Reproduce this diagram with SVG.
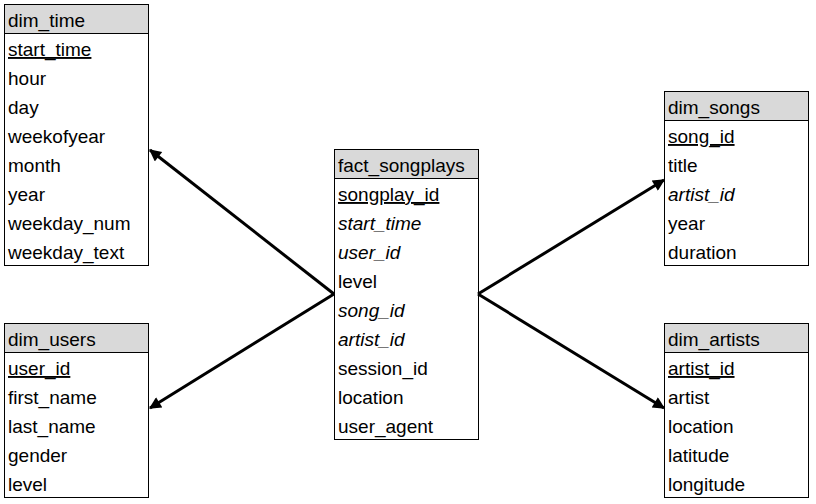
<svg xmlns="http://www.w3.org/2000/svg" width="816" height="504" viewBox="0 0 816 504">
<style>
text{font-family:"Liberation Sans",Arial,sans-serif;font-size:19px;fill:#000}
.hd{fill:#d9d9d9;stroke:#000;stroke-width:1}
.bx{fill:#fff;stroke:#000;stroke-width:1}
.pk{text-decoration:underline}
.fk{font-style:italic}
.ln{stroke:#000;stroke-width:3;fill:none;marker-end:url(#ah)}
</style>
<defs>
<marker id="ah" viewBox="0 0 10 10" refX="9" refY="5" markerWidth="4.5" markerHeight="4" orient="auto" markerUnits="strokeWidth">
<path d="M0,0 L10,5 L0,10 z" fill="#000"/>
</marker>
</defs>
<rect width="816" height="504" fill="#fff"/>
<g id="dim_time">
<rect class="bx" x="4.5" y="4.5" width="144" height="261"/>
<rect class="hd" x="4.5" y="4.5" width="144" height="29"/>
<text x="8" y="27">dim_time</text>
<text x="8" y="56" class="pk">start_time</text>
<text x="8" y="85">hour</text>
<text x="8" y="114">day</text>
<text x="8" y="143">weekofyear</text>
<text x="8" y="172">month</text>
<text x="8" y="201">year</text>
<text x="8" y="230">weekday_num</text>
<text x="8" y="259">weekday_text</text>
</g>
<g id="dim_users">
<rect class="bx" x="4.5" y="323.5" width="144" height="174"/>
<rect class="hd" x="4.5" y="323.5" width="144" height="29"/>
<text x="8" y="346">dim_users</text>
<text x="8" y="375" class="pk">user_id</text>
<text x="8" y="404">first_name</text>
<text x="8" y="433">last_name</text>
<text x="8" y="462">gender</text>
<text x="8" y="491">level</text>
</g>
<g id="fact_songplays">
<rect class="bx" x="334.5" y="149.5" width="144" height="290"/>
<rect class="hd" x="334.5" y="149.5" width="144" height="29"/>
<text x="338" y="172">fact_songplays</text>
<text x="338" y="201" class="pk">songplay_id</text>
<text x="338" y="230" class="fk">start_time</text>
<text x="338" y="259" class="fk">user_id</text>
<text x="338" y="288">level</text>
<text x="338" y="317" class="fk">song_id</text>
<text x="338" y="346" class="fk">artist_id</text>
<text x="338" y="375">session_id</text>
<text x="338" y="404">location</text>
<text x="338" y="433">user_agent</text>
</g>
<g id="dim_songs">
<rect class="bx" x="664.5" y="91.5" width="144" height="174"/>
<rect class="hd" x="664.5" y="91.5" width="144" height="29"/>
<text x="668" y="114">dim_songs</text>
<text x="668" y="143" class="pk">song_id</text>
<text x="668" y="172">title</text>
<text x="668" y="201" class="fk">artist_id</text>
<text x="668" y="230">year</text>
<text x="668" y="259">duration</text>
</g>
<g id="dim_artists">
<rect class="bx" x="664.5" y="323.5" width="144" height="174"/>
<rect class="hd" x="664.5" y="323.5" width="144" height="29"/>
<text x="668" y="346">dim_artists</text>
<text x="668" y="375" class="pk">artist_id</text>
<text x="668" y="404">artist</text>
<text x="668" y="433">location</text>
<text x="668" y="462">latitude</text>
<text x="668" y="491">longitude</text>
</g>
<g id="connectors">
<line class="ln" x1="334" y1="294" x2="150" y2="150"/>
<line class="ln" x1="334" y1="294" x2="150" y2="408"/>
<line class="ln" x1="478" y1="294" x2="664" y2="180"/>
<line class="ln" x1="478" y1="294" x2="664" y2="408"/>
</g>
</svg>
